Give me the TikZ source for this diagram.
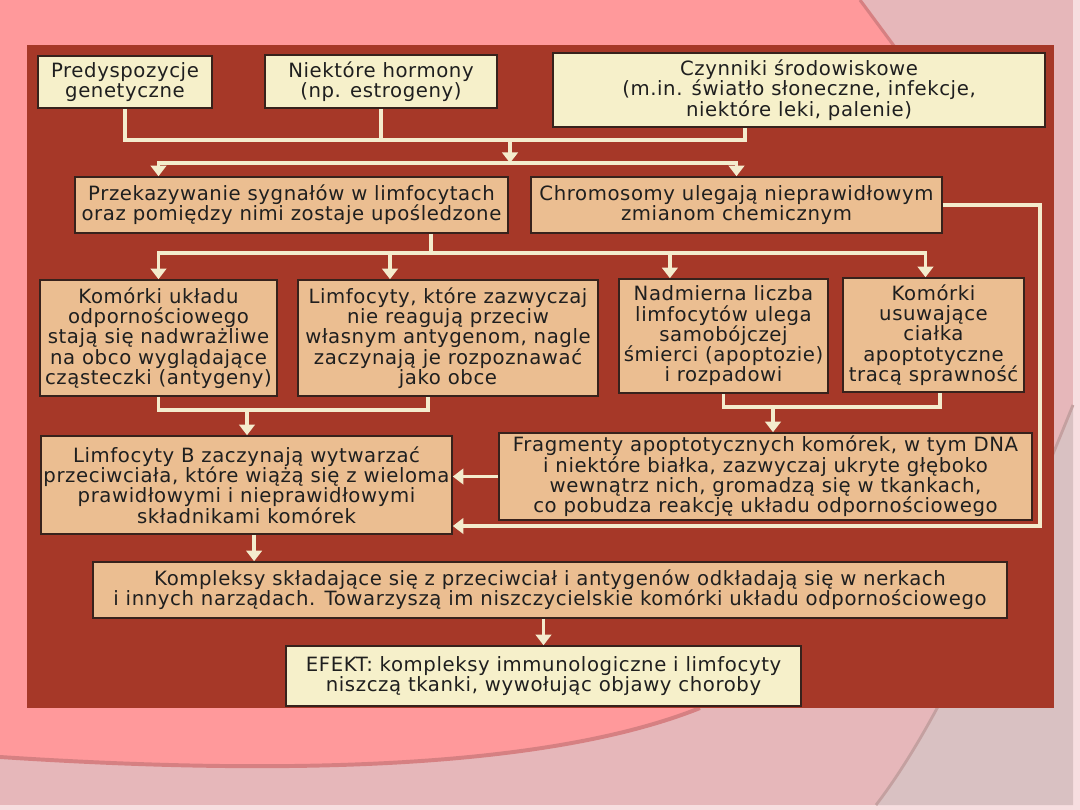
\documentclass[tikz,border=0pt]{standalone}
\usepackage{fontspec}
\setmainfont{DejaVu Sans}[LetterSpace=3]
\usepackage{tikz}
\usetikzlibrary{arrows.meta,calc}
\definecolor{slidePink}{RGB}{255,153,155}
\definecolor{slideLight}{RGB}{230,183,186}
\definecolor{slideGrey}{RGB}{217,193,194}
\definecolor{slidePale}{RGB}{247,222,224}
\definecolor{slideEdge}{RGB}{214,128,130}
\definecolor{slideArc}{RGB}{196,160,160}
\definecolor{panelRed}{RGB}{166,56,40}
\definecolor{boxCream}{RGB}{246,240,202}
\definecolor{boxTan}{RGB}{235,190,145}
\definecolor{boxLine}{RGB}{55,34,28}
\definecolor{linkCream}{RGB}{244,236,205}
\tikzset{
  kBox/.style={draw=boxLine,line width=1.1pt,align=center,inner sep=1pt,
        text=black!88,font=\fontsize{14}{14.4}\selectfont},
  kCream/.style={kBox,fill=boxCream},
  kTan/.style={kBox,fill=boxTan},
  kLink/.style={draw=linkCream,line width=2.4pt},
  kArrow/.style={kLink,-{Triangle[width=11pt,length=7.5pt]}},
}

\begin{document}
\begin{tikzpicture}[x=0.025cm,y=-0.025cm]
\useasboundingbox (0,0) rectangle (1080,810);
\fill[slidePale] (0,0) rectangle (1080,810);
\fill[slideLight] (0,0) rectangle (1073,805);
\fill[slideGrey] (876,805) .. controls (945,715) and (1010,560) .. (1073,405) -- (1073,805) -- cycle;
\draw[slideArc,line width=2pt] (876,805) .. controls (945,715) and (1010,560) .. (1073,405);
\fill[slidePink] (0,0) -- (860,0) -- (960,135) -- (700,708) .. controls (520,780) and (200,770) .. (0,757) -- cycle;
\draw[slideEdge,line width=2.2pt] (860,0) -- (960,135);
\draw[slideEdge,line width=2.8pt] (700,708) .. controls (520,780) and (200,770) .. (0,757);
\fill[panelRed] (27,45) rectangle (1054,708);

\node[kCream,minimum width=4.35cm,minimum height=1.3cm] (gen) at (125,82) {Predyspozycje\\genetyczne};
\node[kCream,minimum width=5.8cm,minimum height=1.325cm] (horm) at (381,81.5) {Niektóre hormony\\(np. estrogeny)};
\node[kCream,minimum width=12.3cm,minimum height=1.85cm] (env) at (799,90) {Czynniki środowiskowe\\(m.in. światło słoneczne, infekcje,\\niektóre leki, palenie)};
\node[kTan,minimum width=10.825cm,minimum height=1.4cm] (sig) at (291.5,205) {Przekazywanie sygnałów w limfocytach\\oraz pomiędzy nimi zostaje upośledzone};
\node[kTan,minimum width=10.275cm,minimum height=1.4cm] (chr) at (736.5,205) {Chromosomy ulegają nieprawidłowym\\zmianom chemicznym};
\node[kTan,minimum width=5.925cm,minimum height=2.9cm] (hyp) at (158.5,338) {Komórki układu\\odpornościowego\\stają się nadwrażliwe\\na obco wyglądające\\cząsteczki (antygeny)};
\node[kTan,minimum width=7.5cm,minimum height=2.9cm] (self) at (448,338) {Limfocyty, które zazwyczaj\\nie reagują przeciw\\własnym antygenom, nagle\\zaczynają je rozpoznawać\\jako obce};
\node[kTan,minimum width=5.225cm,minimum height=2.85cm] (apo) at (723.5,336) {Nadmierna liczba\\limfocytów ulega\\samobójczej\\śmierci (apoptozie)\\i rozpadowi};
\node[kTan,minimum width=4.525cm,minimum height=2.85cm] (clr) at (933.5,335) {Komórki\\usuwające\\ciałka\\apoptotyczne\\tracą sprawność};
\node[kTan,minimum width=10.275cm,minimum height=2.45cm] (lymb) at (246.5,485) {Limfocyty B zaczynają wytwarzać\\przeciwciała, które wiążą się z wieloma\\prawidłowymi i nieprawidłowymi\\składnikami komórek};
\node[kTan,minimum width=13.325cm,minimum height=2.175cm] (frag) at (765.5,476.5) {Fragmenty apoptotycznych komórek, w tym DNA\\i niektóre białka, zazwyczaj ukryte głęboko\\wewnątrz nich, gromadzą się w tkankach,\\co pobudza reakcję układu odpornościowego};
\node[kTan,minimum width=22.85cm,minimum height=1.4cm] (cplx) at (550,590) {Kompleksy składające się z przeciwciał i antygenów odkładają się w nerkach\\i innych narządach. Towarzyszą im niszczycielskie komórki układu odpornościowego};
\node[kCream,minimum width=12.875cm,minimum height=1.5cm] (eff) at (543.5,676) {EFEKT: kompleksy immunologiczne i limfocyty\\niszczą tkanki, wywołując objawy choroby};

\coordinate (j1) at (510,140);
\coordinate (j2) at (510,163);
\draw[kLink] (gen.south) |- (j1) -| ([xshift=-1.35cm]env.south);
\draw[kLink] (horm.south) -- (horm.south |- j1);
\draw[kArrow] (j1) -- (j2);
\draw[kArrow] (j2) -| (sig.north -| hyp.north);
\draw[kArrow] (j2) -| (chr.north);

\coordinate (j3) at (431,253);
\draw[kLink] (sig.south -| j3) -- (j3);
\draw[kArrow] (j3) -| (hyp.north);
\draw[kArrow] (j3) -| ([xshift=-1.45cm]self.north);
\draw[kArrow] (j3) -| ([xshift=-1.34cm]apo.north);
\draw[kArrow] (j3) -| ([xshift=-0.2cm]clr.north);

\coordinate (j4) at (247,410);
\draw[kLink] (hyp.south) |- (j4) -| ([xshift=-0.5cm]self.south);
\draw[kArrow] (j4) -- (j4 |- lymb.north);
\coordinate (j5) at (773,407);
\draw[kLink] (apo.south) |- (j5) -| ([xshift=0.16cm]clr.south);
\draw[kArrow] (j5) -- (j5 |- frag.north);

\draw[kArrow] (frag.west) -- (frag.west -| lymb.east);
\coordinate (fb) at (1040,526);
\draw[kArrow] (chr.east) -| (fb) -- (fb -| lymb.east);

\coordinate (j6) at ([xshift=0.19cm]lymb.south);
\draw[kArrow] (j6) -- (j6 |- cplx.north);
\draw[kArrow] (cplx.south -| eff.north) -- (eff.north);
\end{tikzpicture}
\end{document}
